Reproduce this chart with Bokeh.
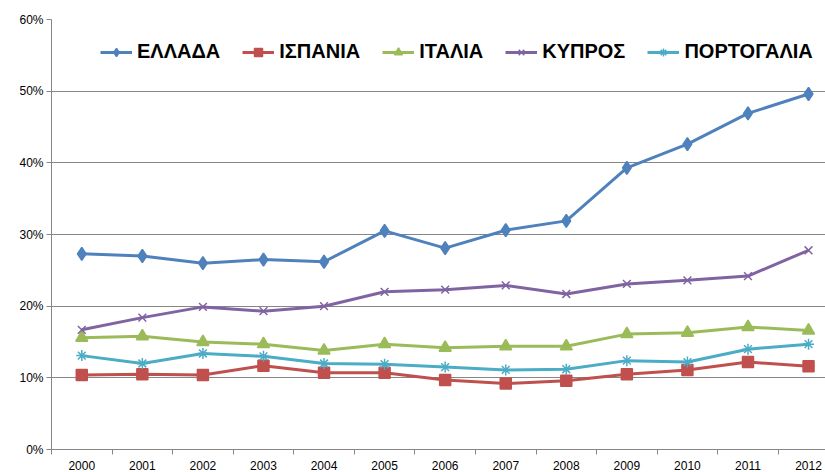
from bokeh.plotting import figure
from bokeh.models import (Range1d, FixedTicker, NumeralTickFormatter, Legend, LegendItem)
from bokeh.embed import file_html
from bokeh.resources import INLINE

years = [2000, 2001, 2002, 2003, 2004, 2005, 2006, 2007, 2008, 2009, 2010, 2011, 2012]
greece   = [0.273, 0.270, 0.260, 0.265, 0.262, 0.305, 0.281, 0.306, 0.319, 0.393, 0.426, 0.469, 0.496]
spain    = [0.104, 0.105, 0.104, 0.117, 0.107, 0.107, 0.097, 0.092, 0.096, 0.105, 0.111, 0.122, 0.116]
italy    = [0.156, 0.158, 0.150, 0.147, 0.138, 0.147, 0.142, 0.144, 0.144, 0.161, 0.163, 0.171, 0.166]
cyprus   = [0.167, 0.184, 0.199, 0.193, 0.200, 0.220, 0.223, 0.229, 0.217, 0.231, 0.236, 0.242, 0.278]
portugal = [0.131, 0.120, 0.134, 0.130, 0.120, 0.119, 0.115, 0.111, 0.112, 0.124, 0.122, 0.140, 0.147]
names = ["ΕΛΛΑΔΑ", "ΙΣΠΑΝΙΑ", "ΙΤΑΛΙΑ", "ΚΥΠΡΟΣ", "ΠΟΡΤΟΓΑΛΙΑ"]
y_ticks = [0.0, 0.1, 0.2, 0.3, 0.4, 0.5, 0.6]

series = [greece, spain, italy, cyprus, portugal]
colors = ["#4F81BD", "#C0504D", "#9BBB59", "#8064A2", "#4BACC6"]
markers = ["diamond", "square", "triangle", "x", "asterisk"]
sizes = [13, 11, 12, 11, 11]

p = figure(width=825, height=472, output_backend="svg", toolbar_location=None,
           x_range=Range1d(years[0] - 0.5, years[-1] + 0.28),
           y_range=Range1d(0, 0.6),
           min_border_left=51, min_border_right=0, min_border_top=19, min_border_bottom=23)
p.outline_line_color = None
p.background_fill_color = "white"
p.border_fill_color = "white"

p.xaxis.ticker = FixedTicker(ticks=years, minor_ticks=[y - 0.5 for y in years] + [years[-1] + 0.5])
p.xaxis.formatter = NumeralTickFormatter(format="0")
p.xaxis.major_tick_line_color = None
p.xaxis.major_tick_out = 5
p.xaxis.major_tick_in = 0
p.xaxis.minor_tick_out = 5
p.xaxis.minor_tick_in = 0
p.xaxis.minor_tick_line_color = "#868686"
p.xaxis.axis_line_color = "#868686"
p.xaxis.major_label_standoff = 6
p.xgrid.visible = False

p.yaxis.ticker = FixedTicker(ticks=y_ticks)
p.yaxis.formatter = NumeralTickFormatter(format="0%")
p.yaxis.minor_tick_line_color = None
p.yaxis.major_tick_out = 5
p.yaxis.major_tick_in = 0
p.yaxis.major_tick_line_color = "#868686"
p.yaxis.axis_line_color = "#868686"
p.yaxis.major_label_standoff = 3
p.ygrid.grid_line_color = "#868686"
p.ygrid.grid_line_width = 1

for ax in (p.xaxis, p.yaxis):
    ax.major_label_text_font = "Liberation Sans"
    ax.major_label_text_font_size = "12px"
    ax.major_label_text_color = "#000000"

items = []
for name, ys, c, m, s in zip(names, series, colors, markers, sizes):
    ln = p.line(years, ys, line_color=c, line_width=3)
    sc = p.scatter(years, ys, marker=m, size=s, fill_color=c, line_color=c, line_width=1.5)
    items.append(LegendItem(label=name, renderers=[ln, sc]))

legend = Legend(items=items, orientation="horizontal", location=(49, 386),
                glyph_width=32, glyph_height=20, label_standoff=5, spacing=22,
                padding=0, margin=0, border_line_color=None, background_fill_alpha=0,
                label_text_font="Liberation Sans", label_text_font_size="20px",
                label_text_font_style="bold", label_text_color="#000000")
p.add_layout(legend, "center")

open("out.html", "w").write(file_html(p, INLINE))
